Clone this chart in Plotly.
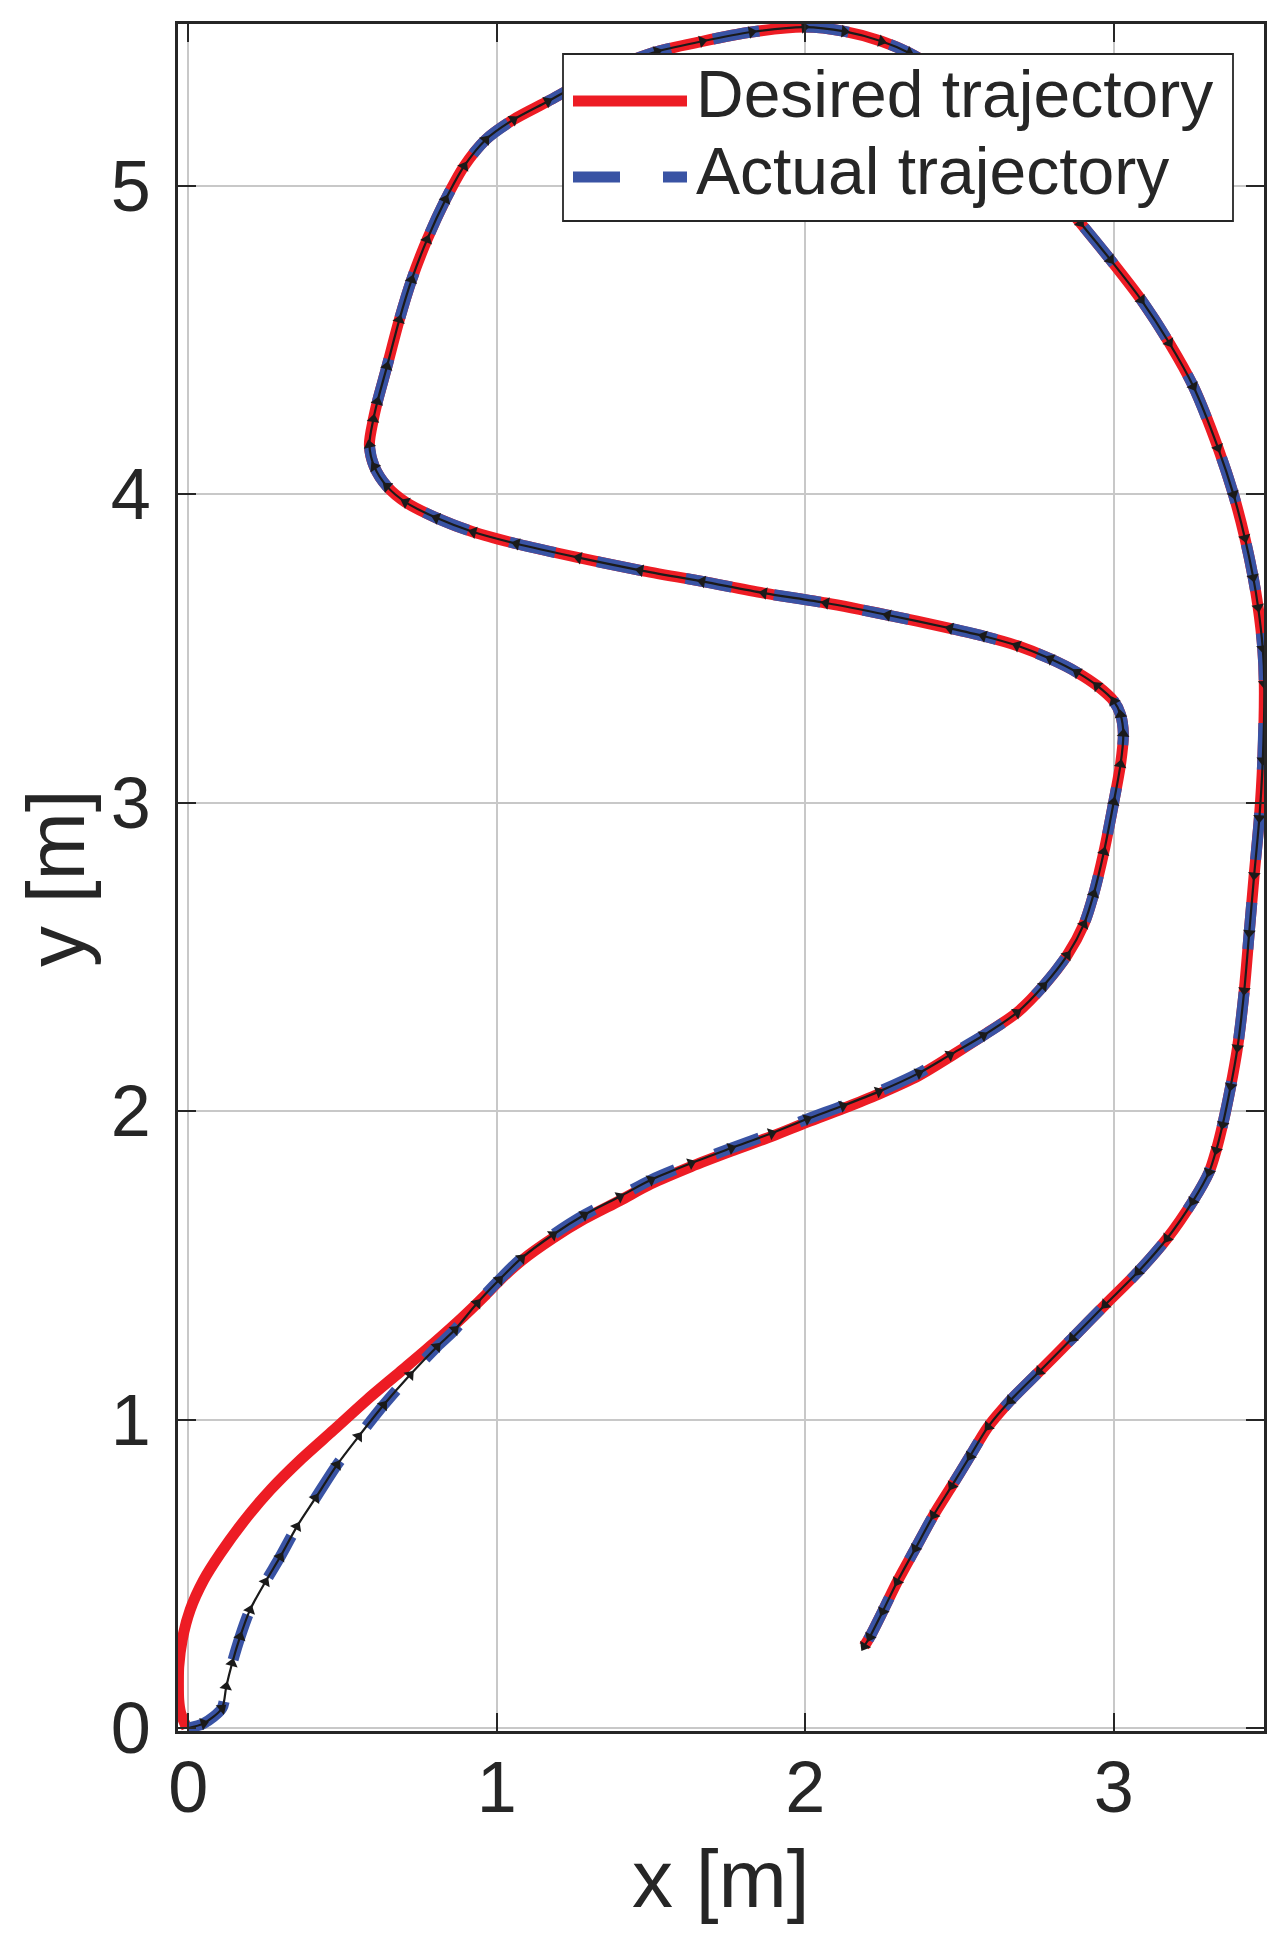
import plotly.graph_objects as go

# ---------------- data ----------------
x_des = [-0.005, -0.025, -0.031, -0.032, -0.031, -0.020, 0.006, 0.050, 0.104, 0.179,
         0.266, 0.363, 0.471, 0.579, 0.687, 0.795, 0.892, 0.960, 1.008, 1.080,
         1.182, 1.283, 1.399, 1.500, 1.630, 1.760, 1.891, 2.006, 2.122, 2.238,
         2.368, 2.469, 2.577, 2.686, 2.772, 2.849, 2.903, 2.935, 2.968, 3.000,
         3.022, 3.031, 3.022, 3.000, 2.946, 2.881, 2.794, 2.686, 2.577, 2.469,
         2.267, 2.067, 1.866, 1.666, 1.465, 1.265, 1.064, 0.924, 0.804, 0.704,
         0.644, 0.603, 0.587, 0.600, 0.613, 0.644, 0.684, 0.724, 0.774, 0.834,
         0.894, 0.964, 1.054, 1.165, 1.260, 1.360, 1.440, 1.520, 1.666, 1.826,
         1.997, 2.127, 2.247, 2.337, 2.450, 2.550, 2.650, 2.750, 2.820, 2.892,
         2.989, 3.089, 3.180, 3.258, 3.338, 3.388, 3.425, 3.452, 3.468, 3.483,
         3.488, 3.483, 3.472, 3.455, 3.439, 3.423, 3.401, 3.379, 3.353, 3.332,
         3.309, 3.256, 3.173, 3.079, 2.972, 2.866, 2.759, 2.664, 2.593, 2.534,
         2.475, 2.416, 2.357, 2.298, 2.251, 2.209, 2.191]
y_des = [0.000, 0.050, 0.091, 0.150, 0.199, 0.285, 0.383, 0.480, 0.566, 0.669,
         0.772, 0.869, 0.966, 1.064, 1.155, 1.247, 1.334, 1.400, 1.450, 1.515,
         1.588, 1.650, 1.710, 1.764, 1.820, 1.870, 1.918, 1.964, 2.008, 2.055,
         2.115, 2.176, 2.245, 2.319, 2.406, 2.505, 2.605, 2.704, 2.840, 3.002,
         3.124, 3.223, 3.285, 3.329, 3.379, 3.422, 3.466, 3.509, 3.540, 3.565,
         3.608, 3.647, 3.679, 3.717, 3.753, 3.794, 3.839, 3.877, 3.923, 3.974,
         4.025, 4.089, 4.160, 4.243, 4.300, 4.414, 4.565, 4.695, 4.825, 4.955,
         5.063, 5.149, 5.214, 5.273, 5.325, 5.375, 5.408, 5.435, 5.468, 5.498,
         5.514, 5.500, 5.468, 5.430, 5.360, 5.270, 5.165, 5.050, 4.965, 4.879,
         4.760, 4.630, 4.490, 4.349, 4.150, 3.999, 3.858, 3.730, 3.633, 3.500,
         3.385, 3.137, 2.950, 2.764, 2.577, 2.391, 2.205, 2.080, 1.956, 1.873,
         1.802, 1.707, 1.587, 1.479, 1.372, 1.264, 1.156, 1.061, 0.977, 0.881,
         0.785, 0.690, 0.582, 0.474, 0.378, 0.295, 0.265]

x_act = [0.000, 0.050, 0.109, 0.123, 0.142, 0.168, 0.200, 0.250, 0.298, 0.352,
         0.412, 0.482, 0.552, 0.633, 0.719, 0.806, 0.864, 0.936, 1.008, 1.080,
         1.182, 1.283, 1.399, 1.500, 1.630, 1.760, 1.891, 2.006, 2.122, 2.238,
         2.368, 2.469, 2.577, 2.686, 2.772, 2.849, 2.903, 2.935, 2.968, 3.000,
         3.022, 3.031, 3.022, 3.000, 2.946, 2.881, 2.794, 2.686, 2.577, 2.469,
         2.267, 2.067, 1.866, 1.666, 1.465, 1.265, 1.064, 0.924, 0.804, 0.704,
         0.644, 0.603, 0.587, 0.600, 0.613, 0.644, 0.684, 0.724, 0.774, 0.834,
         0.894, 0.964, 1.054, 1.165, 1.260, 1.360, 1.440, 1.520, 1.666, 1.826,
         1.997, 2.127, 2.247, 2.337, 2.450, 2.550, 2.650, 2.750, 2.820, 2.892,
         2.989, 3.089, 3.180, 3.258, 3.338, 3.388, 3.425, 3.452, 3.468, 3.483,
         3.488, 3.483, 3.472, 3.455, 3.439, 3.423, 3.401, 3.379, 3.353, 3.332,
         3.309, 3.256, 3.173, 3.079, 2.972, 2.866, 2.759, 2.664, 2.593, 2.534,
         2.475, 2.416, 2.357, 2.298, 2.251, 2.209, 2.191]
y_act = [0.000, 0.015, 0.064, 0.134, 0.210, 0.296, 0.383, 0.474, 0.555, 0.653,
         0.745, 0.853, 0.945, 1.047, 1.145, 1.236, 1.291, 1.377, 1.453, 1.523,
         1.599, 1.663, 1.723, 1.777, 1.831, 1.880, 1.928, 1.974, 2.017, 2.063,
         2.123, 2.182, 2.245, 2.319, 2.406, 2.505, 2.605, 2.704, 2.840, 3.002,
         3.124, 3.223, 3.285, 3.329, 3.379, 3.422, 3.466, 3.509, 3.540, 3.565,
         3.608, 3.647, 3.679, 3.717, 3.753, 3.794, 3.839, 3.877, 3.923, 3.974,
         4.025, 4.089, 4.160, 4.243, 4.300, 4.414, 4.565, 4.695, 4.825, 4.955,
         5.063, 5.149, 5.214, 5.273, 5.325, 5.375, 5.408, 5.435, 5.468, 5.498,
         5.514, 5.500, 5.468, 5.430, 5.360, 5.270, 5.165, 5.050, 4.965, 4.879,
         4.760, 4.630, 4.490, 4.349, 4.150, 3.999, 3.858, 3.730, 3.633, 3.500,
         3.385, 3.137, 2.950, 2.764, 2.577, 2.391, 2.205, 2.080, 1.956, 1.873,
         1.802, 1.707, 1.587, 1.479, 1.372, 1.264, 1.156, 1.061, 0.977, 0.881,
         0.785, 0.690, 0.582, 0.474, 0.378, 0.295, 0.265]

x_ticks = [0, 1, 2, 3]
y_ticks = [0, 1, 2, 3, 4, 5]
legend_labels = ["Desired trajectory", "Actual trajectory"]
x_title = "x [m]"
y_title = "y [m]"

# ---------------- styling ----------------
RED = "#ED1C24"
BLUE = "#3953A4"
INK = "#262626"
FONT = "Liberation Sans, Arimo, Arial, Helvetica, sans-serif"

OFF = 8                      # default page (body) margin of the html page
W, H = 1284 - OFF, 1950 - OFF
# plot-area edges in window pixels
L, R, T, B = 178, 1264, 24, 1731


def px(X):
    return (X - L) / (R - L)


def py(Y):
    return (B - Y) / (B - T)


fig = go.Figure()
fig.add_trace(go.Scatter(x=x_des, y=y_des, mode="lines", name=legend_labels[0],
                         line=dict(color=RED, width=11, shape="spline", smoothing=0.8),
                         showlegend=False, hoverinfo="skip"))
fig.add_trace(go.Scatter(x=x_act, y=y_act, mode="lines", name=legend_labels[1],
                         line=dict(color=BLUE, width=11, dash="47px,43px",
                                   shape="spline", smoothing=0.8),
                         showlegend=False, hoverinfo="skip"))
fig.add_trace(go.Scatter(x=x_act, y=y_act, mode="lines+markers",
                         line=dict(color="#1a1a1a", width=2.2, shape="spline",
                                   smoothing=0.8),
                         marker=dict(symbol="triangle-up", size=11, color="#1a1a1a",
                                     angleref="previous", line=dict(width=0)),
                         showlegend=False, hoverinfo="skip"))

axis_common = dict(
    showgrid=True, gridcolor="#c8c8c8", gridwidth=2,
    zeroline=False, showline=True, linecolor=INK, linewidth=2.5,
    mirror="ticks", ticks="inside", ticklen=18, tickwidth=2, tickcolor=INK,
    tickfont=dict(family=FONT, size=72, color=INK),
)

fig.update_xaxes(range=[-0.0334, 3.487], tickvals=x_ticks,
                 ticktext=[str(v) for v in x_ticks], ticklabelstandoff=-8,
                 **axis_common)
fig.update_yaxes(range=[-0.0097, 5.524], tickvals=y_ticks,
                 ticktext=[str(v) for v in y_ticks], ticklabelstandoff=10,
                 **axis_common)

# manual legend (box, line samples, labels)
shapes = [
    dict(type="rect", xref="paper", yref="paper", x0=px(563), x1=px(1233),
         y0=py(221), y1=py(54), fillcolor="white",
         line=dict(color=INK, width=1.8), layer="above"),
    dict(type="line", xref="paper", yref="paper", x0=px(573), x1=px(687),
         y0=py(101), y1=py(101), line=dict(color=RED, width=11), layer="above"),
    dict(type="line", xref="paper", yref="paper", x0=px(573), x1=px(687),
         y0=py(177), y1=py(177), line=dict(color=BLUE, width=11, dash="47px,43px"),
         layer="above"),
]
annotations = [
    dict(text=legend_labels[0], xref="paper", yref="paper", x=px(694), y=py(94),
         xanchor="left", yanchor="middle", showarrow=False,
         font=dict(family=FONT, size=66, color=INK)),
    dict(text=legend_labels[1], xref="paper", yref="paper", x=px(694), y=py(171),
         xanchor="left", yanchor="middle", showarrow=False,
         font=dict(family=FONT, size=66, color=INK)),
    dict(text=x_title, xref="paper", yref="paper", x=px(721), y=py(1878),
         xanchor="center", yanchor="middle", showarrow=False,
         font=dict(family=FONT, size=82, color=INK)),
    dict(text=y_title, xref="paper", yref="paper", x=px(56), y=py(878),
         xanchor="center", yanchor="middle", showarrow=False, textangle=-90,
         font=dict(family=FONT, size=82, color=INK)),
]

fig.update_layout(
    width=W, height=H,
    margin=dict(l=L - OFF, r=1284 - R, t=T - OFF, b=1950 - B, pad=0),
    paper_bgcolor="white", plot_bgcolor="white",
    shapes=shapes, annotations=annotations,
    showlegend=False,
)

fig.write_html("out.html")
